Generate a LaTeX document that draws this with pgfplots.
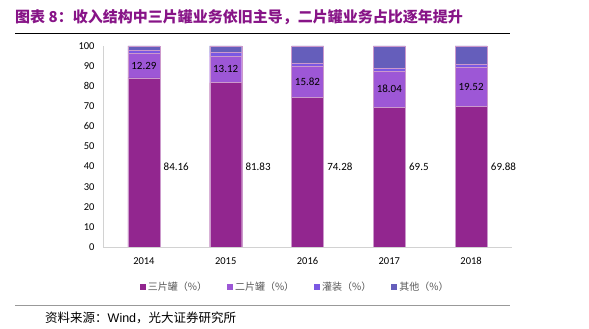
\documentclass[border=0pt]{standalone}
\usepackage{fontspec}
\usepackage{pgfplots}
\usepackage{pgfplotstable}
\pgfplotsset{compat=1.18}
\setmainfont{Carlito}
\newfontfamily\cjk{Noto Sans CJK SC}
\newfontfamily\arial{Liberation Sans}
\definecolor{cA}{RGB}{146,38,143}
\definecolor{cB}{RGB}{157,87,214}
\definecolor{cC}{RGB}{123,88,227}
\definecolor{cD}{RGB}{101,94,187}
\definecolor{titlec}{RGB}{135,20,135}
\definecolor{txt}{RGB}{89,89,89}
\tikzset{lab/.style={font=\fontsize{11}{13}\selectfont, inner sep=0, text=black}}
\pgfplotstableread{
x three two fill other
0 84.16 12.29 1.60 1.95
1 81.83 13.12 2.00 3.05
2 74.28 15.82 1.20 8.70
3 69.50 18.04 1.40 11.06
4 69.88 19.52 1.30 9.30
}\datatable
\begin{document}
\begin{tikzpicture}[x=1pt,y=1pt]
\useasboundingbox (0,0) rectangle (589,329);
\node[anchor=west, text=titlec, font=\cjk\bfseries\fontsize{15}{17}\selectfont, inner sep=0] at (15,312) {图表 8：收入结构中三片罐业务依旧主导，二片罐业务占比逐年提升};
\draw[black, line width=0.8pt] (15,296) -- (510,296);
\draw[gray!80, line width=1.3pt] (15,23.5) -- (510,23.5);
\node[anchor=west, font=\cjk\fontsize{12.5}{14}\selectfont, inner sep=0] at (45,11) {资料来源：{\arial Wind}，光大证券研究所};
\begin{axis}[
  at={(103pt,82pt)}, anchor=south west,
  scale only axis, width=409pt, height=201pt,
  ybar stacked, bar width=32pt,
  xmin=-0.5, xmax=4.5, ymin=0, ymax=100,
  ytick={0,10,...,100},
  xtick=data, xticklabels={2014,2015,2016,2017,2018},
  axis lines*=left,
  axis line style={draw=gray!35, line width=0.8pt},
  major tick length=0pt,
  tick label style={font=\fontsize{10.5}{12}\selectfont, text=black},
  yticklabel style={xshift=-5pt},
  xticklabel style={yshift=-7pt},
  /pgf/number format/assume math mode=true,
  every axis plot/.append style={draw=white!60!violet, line width=0.4pt},
  legend style={at={(0.47,-0.2)}, anchor=center, draw=none, fill=none,
    legend columns=4, font=\cjk\fontsize{10}{12}\selectfont, text=txt,
    /tikz/every even column/.append style={column sep=18pt}},
  legend image code/.code={\fill[#1, draw=none] (0pt,-3pt) rectangle (6pt,3pt);},
]
\addplot[fill=cA] table[x=x,y=three]{\datatable};
\addplot[fill=cB] table[x=x,y=two]{\datatable};
\addplot[fill=cC] table[x=x,y=fill]{\datatable};
\addplot[fill=cD] table[x=x,y=other]{\datatable};
\legend{三片罐（\%）,二片罐（\%）,灌装（\%）,其他（\%）}
\coordinate (a0) at (axis cs:0.24,40);
\coordinate (a1) at (axis cs:1.24,40);
\coordinate (a2) at (axis cs:2.24,40);
\coordinate (a3) at (axis cs:3.24,40);
\coordinate (a4) at (axis cs:4.24,40);
\coordinate (b0) at (axis cs:0,90.305);
\coordinate (b1) at (axis cs:1,88.39);
\coordinate (b2) at (axis cs:2,82.19);
\coordinate (b3) at (axis cs:3,78.52);
\coordinate (b4) at (axis cs:4,79.64);
\end{axis}
\node[lab, anchor=west] at (a0) {84.16};
\node[lab, anchor=west] at (a1) {81.83};
\node[lab, anchor=west] at (a2) {74.28};
\node[lab, anchor=west] at (a3) {69.5};
\node[lab, anchor=west] at (a4) {69.88};
\node[lab] at (b0) {12.29};
\node[lab] at (b1) {13.12};
\node[lab] at (b2) {15.82};
\node[lab] at (b3) {18.04};
\node[lab] at (b4) {19.52};
\end{tikzpicture}
\end{document}
